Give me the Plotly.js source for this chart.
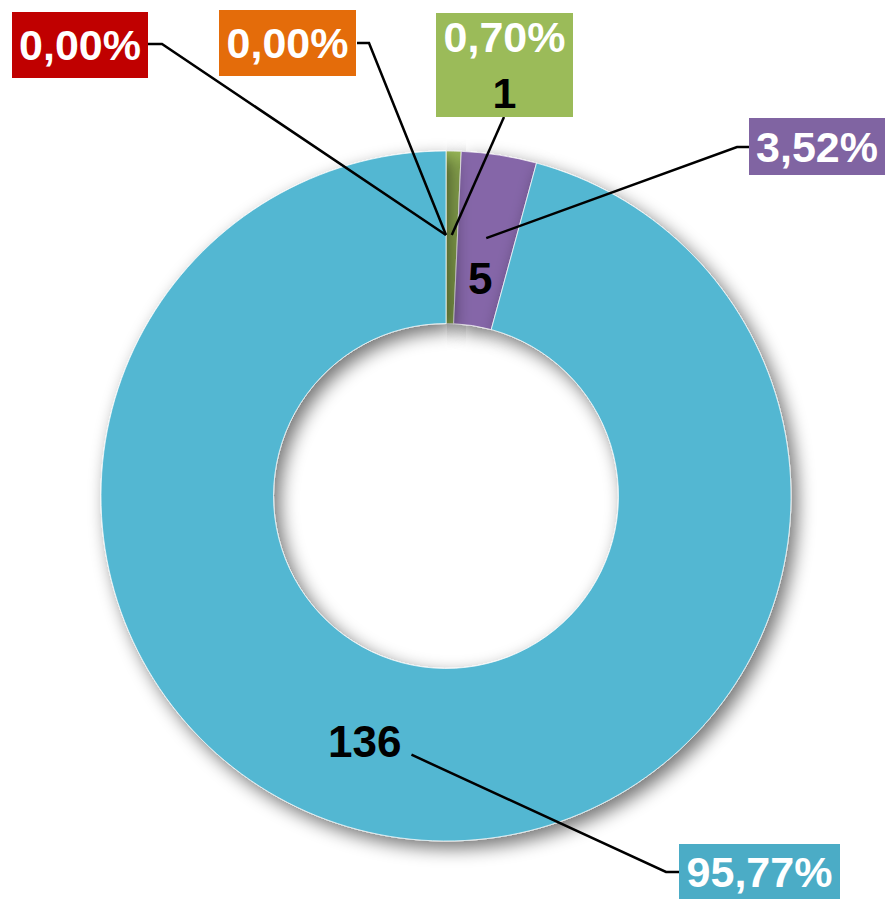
<!DOCTYPE html>
<html>
<head>
<meta charset="utf-8">
<script src="https://cdn.plot.ly/plotly-3.0.1.min.js"></script>
<style>html,body{margin:0;padding:0;background:#fff;}</style>
</head>
<body>
<div id="chart" style="width:885px;height:899px;"></div>
<script>
// ---- data ----
var categories = ['A', 'B', 'C', 'D', 'E'];
var values = [0, 0, 1, 5, 136];
var percentLabels = ['0,00%', '0,00%', '0,70%', '3,52%', '95,77%'];
var valueLabels = ['0', '0', '1', '5', '136'];

// ---- styling ----
var sliceColors = ['#C00000', '#E46C0A', '#9BBB59', '#8566A8', '#52B7D2'];
var boxColors = ['#C00000', '#E46C0A', '#9BBB59', '#8064A2', '#4BACC6'];

var W = 885, H = 899;
var cx = 446, cy = 496, R = 345;
function px(x) { return x / W; }
function py(y) { return 1 - y / H; }

// mid angles from data
var total = values.reduce(function (a, b) { return a + b; }, 0);
var mids = [];
var cum = 0;
values.forEach(function (v) { mids.push((cum + v / 2) / total * 360); cum += v; });
function pt(i, r) {
  var a = mids[i] * Math.PI / 180;
  return [cx + r * Math.sin(a), cy - r * Math.cos(a)];
}

// label box layout (positions in pixels)
var boxes = [
  {cx: 80, cy: 45, w: 136, h: 66, edge: [148, 44], elbow: [162, 44]},
  {cx: 287.5, cy: 43.5, w: 137, h: 66, edge: [357, 43], elbow: [369, 43]},
  {cx: 504.5, cy: 65, w: 137, h: 104, edge: [504, 117], elbow: null},
  {cx: 817, cy: 146.5, w: 136, h: 57, edge: [749, 147], elbow: [737, 147]},
  {cx: 759.5, cy: 872, w: 161, h: 56, edge: [679, 872], elbow: [666, 872]}
];

var shapes = [];
var annotations = [];
boxes.forEach(function (b, i) {
  var p = pt(i, 261);
  var path = 'M ' + px(b.edge[0]) + ' ' + py(b.edge[1]);
  if (b.elbow) path += ' L ' + px(b.elbow[0]) + ' ' + py(b.elbow[1]);
  path += ' L ' + px(p[0]) + ' ' + py(p[1]);
  shapes.push({type: 'path', xref: 'paper', yref: 'paper', path: path,
    line: {color: '#000', width: 2.5}});
  var txt = percentLabels[i];
  if (i === 2) txt += '<br><span style="color:#000">' + valueLabels[i] + '</span>';
  annotations.push({
    xref: 'paper', yref: 'paper', x: px(b.cx), y: py(b.cy),
    xanchor: 'center', yanchor: 'middle', showarrow: false,
    text: txt, bgcolor: boxColors[i], borderpad: 0, borderwidth: 0,
    width: b.w, height: b.h,
    font: {family: 'Liberation Sans, Arial, sans-serif', size: 43, color: '#fff', weight: 'bold'}
  });
});

// value labels on slices
var p5 = pt(3, 220);
annotations.push({xref: 'paper', yref: 'paper', x: px(p5[0]), y: py(p5[1]),
  xanchor: 'center', yanchor: 'middle', showarrow: false, text: valueLabels[3],
  font: {family: 'Liberation Sans, Arial, sans-serif', size: 44, color: '#000', weight: 'bold'}});
var p136 = pt(4, 261);
annotations.push({xref: 'paper', yref: 'paper', x: px(p136[0]), y: py(p136[1]),
  xanchor: 'right', yanchor: 'middle', showarrow: false, text: valueLabels[4],
  xshift: -8, yshift: 13,
  font: {family: 'Liberation Sans, Arial, sans-serif', size: 44, color: '#000', weight: 'bold'}});

var trace = {
  type: 'pie', labels: categories, values: values, sort: false,
  direction: 'clockwise', rotation: 0, hole: 0.5,
  marker: {colors: sliceColors, line: {color: 'rgba(255,255,255,0.7)', width: 1}},
  textinfo: 'none', hoverinfo: 'none',
  domain: {x: [px(cx - R), px(cx + R)], y: [py(cy + R), py(cy - R)]}
};

var layout = {
  width: W, height: H, margin: {l: 0, r: 0, t: 0, b: 0},
  paper_bgcolor: '#fff', showlegend: false,
  shapes: shapes, annotations: annotations
};

Plotly.newPlot('chart', [trace], layout, {displayModeBar: false, staticPlot: true}).then(function () {
  var ns = 'http://www.w3.org/2000/svg';
  function mk(tag, attrs, parent) {
    var el = document.createElementNS(ns, tag);
    for (var k in attrs) el.setAttribute(k, attrs[k]);
    parent.appendChild(el);
    return el;
  }
  function addShadow(svg, id, blur, dx, dy, op) {
    var defs = svg.querySelector('defs');
    if (!defs) { defs = document.createElementNS(ns, 'defs'); svg.insertBefore(defs, svg.firstChild); }
    var f = mk('filter', {id: id, x: '-30%', y: '-30%', width: '160%', height: '160%'}, defs);
    mk('feGaussianBlur', {'in': 'SourceAlpha', stdDeviation: blur, result: 'b'}, f);
    mk('feOffset', {'in': 'b', dx: dx, dy: dy, result: 'o'}, f);
    var ct = mk('feComponentTransfer', {'in': 'o', result: 's'}, f);
    mk('feFuncA', {type: 'linear', slope: op}, ct);
    var m = mk('feMerge', {}, f);
    mk('feMergeNode', {'in': 's'}, m);
    mk('feMergeNode', {'in': 'SourceGraphic'}, m);
  }
  var svg = document.querySelector('#chart svg.main-svg');
  addShadow(svg, 'ringShadow', 9, 6, 7, 0.55);
  addShadow(svg, 'boxShadow', 3, 4, 5, 0.4);
  var paths = svg.querySelectorAll('path.surface');
  paths.forEach(function (p) { p.style.filter = 'url(#ringShadow)'; p.setAttribute('filter', 'url(#ringShadow)'); });
  svg.querySelectorAll('.annotation rect.bg').forEach(function (r) {
    var fill = r.style.fill || '';
    if (fill && fill.indexOf('rgba(0, 0, 0, 0)') < 0) r.setAttribute('filter', 'url(#boxShadow)');
  });
});
</script>
</body>
</html>
